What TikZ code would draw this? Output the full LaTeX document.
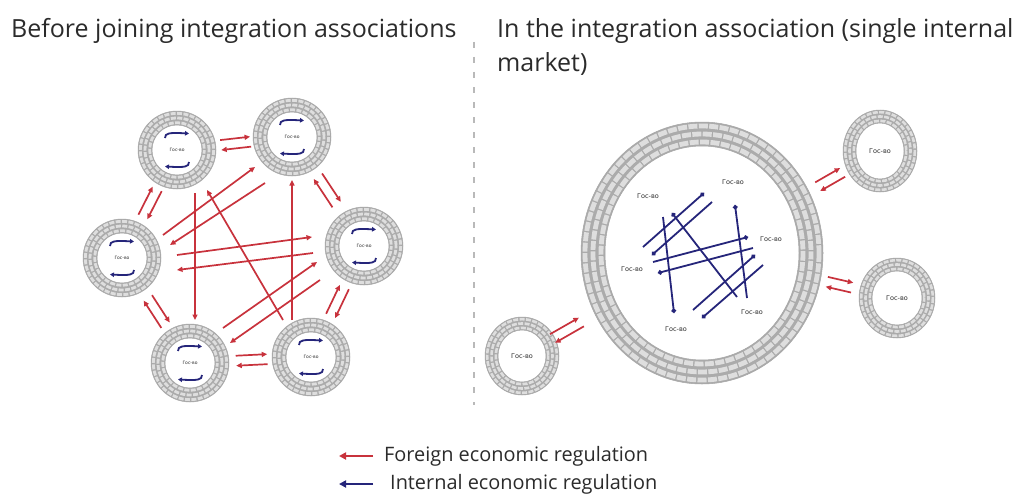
\documentclass[tikz,border=0pt]{standalone}
\usepackage{fontspec}
\setmainfont{Open Sans}
\newfontfamily\cyr{DejaVu Sans}
\usetikzlibrary{calc,arrows.meta,shapes.geometric}
\definecolor{redc}{HTML}{C8323C}
\definecolor{bluec}{HTML}{25257A}
\definecolor{mortar}{HTML}{ABABAB}
\definecolor{brickc}{HTML}{DEDEDE}
\definecolor{txt}{HTML}{2B2B2B}
% #1 node, #2 rx, #3 ry, #4 thickness, #5 brick length
\newcommand\brickring[5]{%
  \fill[mortar, even odd rule] (#1.center) ellipse [x radius=#2, y radius=#3] (#1.center) ellipse [x radius={#2-#4}, y radius={#3-#4}];
  \foreach \k/\ph in {1/0pt,2/2.6pt,3/1.3pt}{
    \draw[brickc, line width={#4*0.2pt}, dash pattern=on #5 off 1.4pt, dash phase=\ph]
      (#1.center) ellipse [x radius={#2-(\k-0.5)*#4/3}, y radius={#3-(\k-0.5)*#4/3}];
  }
  \draw[gray!70, line width=0.5pt] (#1.center) ellipse [x radius=#2, y radius=#3];
  \draw[gray!70, line width=0.5pt] (#1.center) ellipse [x radius={#2-#4}, y radius={#3-#4}];
}
\newcommand\pair[4]{%
  \draw[redarr] ($(#1)!#3!(#2)!5pt!90:(#2)$) -- ($(#1)!#4!(#2)!5pt!90:(#2)$);
  \draw[redarr] ($(#1)!#4!(#2)!5pt!-90:(#2)$) -- ($(#1)!#3!(#2)!5pt!-90:(#2)$);
}
\tikzset{
  redarr/.style={redc, line width=1.7pt, -{Triangle[length=5.5pt,width=5pt]}},
  bluearr/.style={bluec, line width=1.8pt, {Circle[length=4.5pt]}-},
  lnode/.style={circle, minimum size=78pt, inner sep=0pt, font=\cyr\fontsize{4.5}{5}\selectfont, text=txt},
  rnode/.style={circle, minimum size=76pt, inner sep=0pt, font=\cyr\fontsize{6.5}{7}\selectfont, text=txt},
  lbl/.style={font=\cyr\fontsize{6.5}{7}\selectfont, text=txt, inner sep=0pt},
  ttl/.style={font=\fontsize{25}{32}\selectfont, text=txt, inner sep=0pt, anchor=base west},
  leg/.style={font=\fontsize{19.9}{22}\selectfont, text=txt, inner sep=0pt, anchor=west},
  cyc/.pic={
    \draw[bluec, line width=1.8pt, -{Triangle[length=4pt,width=4.5pt]}] (-12,-12) .. controls (-12,-17) and (-8,-17.5) .. (12,-16.5);
    \draw[bluec, line width=1.8pt, -{Triangle[length=4pt,width=4.5pt]}] (12,12) .. controls (12,17) and (8,17.5) .. (-12,16.5);
  }
}
\begin{document}
\begin{tikzpicture}[x=1pt,y=-1pt]
\useasboundingbox (0,0) rectangle (1020,495);
\fill[white] (0,0) rectangle (1020,495);

% titles
\node[ttl] (t1) at (11,38) {Before joining integration associations};
\node[ttl] (t2) at (497,38) {In the integration association (single internal};
\node[ttl] (t3) at (497,72) {market)};

% separator
\coordinate (s1) at (474,42);
\coordinate (s2) at (474,405);
\draw[gray!55, line width=1.3pt, dash pattern=on 6pt off 9pt] (s1) -- (s2);

% left nodes
\node[lnode] (TL) at (177,150) {Гос-во};
\node[lnode] (TR) at (292,137) {Гос-во};
\node[lnode] (ML) at (122,258) {Гос-во};
\node[lnode] (MR) at (364,246) {Гос-во};
\node[lnode] (BL) at (190,363) {Гос-во};
\node[lnode] (BR) at (311,357) {Гос-во};
\foreach \n in {TL,TR,ML,MR,BL,BR}{
  \brickring{\n}{39}{39}{14}{5pt}
  \pic at (\n) {cyc};
}

% pairs left
\pair{TL}{TR}{0.38}{0.64}
\pair{TL}{ML}{0.36}{0.62}
\pair{TR}{MR}{0.36}{0.62}
\pair{ML}{BL}{0.38}{0.64}
\pair{MR}{BR}{0.37}{0.63}
\pair{BL}{BR}{0.38}{0.64}

% long arrows left
\draw[redarr] ($(ML)+(41,-23)$) -- ($(TR)+(-37,30)$);
\draw[redarr] ($(TR)+(-27,46)$) -- ($(ML)+(48,-13)$);
\draw[redarr] ($(TL)+(18,43)$) -- ($(BL)+(5,-43)$);
\draw[redarr] ($(BR)+(-28,-37)$) -- ($(TL)+(30,40)$);
\draw[redarr] ($(ML)+(55,-3)$) -- ($(MR)+(-52,-9)$);
\draw[redarr] ($(MR)+(-51,7)$) -- ($(ML)+(55,12)$);
\draw[redarr] ($(BR)+(-19,-37)$) -- ($(TR)+(0,43)$);
\draw[redarr] ($(BL)+(33,-35)$) -- ($(MR)+(-47,16)$);
\draw[redarr] ($(MR)+(-44,34)$) -- ($(BL)+(40,-20)$);

% right nodes
\node[ellipse, minimum width=242pt, minimum height=262pt, inner sep=0pt] (big) at (702,253) {};
\node[rnode] (R1) at (880,151) {Гос-во};
\node[rnode] (R2) at (897,298) {Гос-во};
\node[rnode] (R3) at (522,356) {Гос-во};
\brickring{big}{121}{131}{24}{9pt}
\brickring{R1}{37}{41}{13}{5pt}
\brickring{R2}{38}{40}{13}{5pt}
\brickring{R3}{37}{39}{13}{5pt}

\pair{big}{R1}{0.65}{0.79}
\pair{big}{R2}{0.64}{0.77}
\pair{R3}{big}{0.17}{0.33}

% inner labels
\node[lbl] (g1) at ($(big)+(31,-71)$) {Гос-во};
\node[lbl] (g2) at ($(big)+(-54,-57)$) {Гос-во};
\node[lbl] (g3) at ($(big)+(69,-14)$) {Гос-во};
\node[lbl] (g4) at ($(big)+(-70,16)$) {Гос-во};
\node[lbl] (g5) at ($(big)+(50,59)$) {Гос-во};
\node[lbl] (g6) at ($(big)+(-26,76)$) {Гос-во};

% inner blue lines (dot marks the end at the labelled point)
\draw[bluearr] ($(big)+(2,-60)$) -- ($(big)+(-59,-6)$);
\draw[bluearr] ($(big)+(-50,2)$) -- ($(big)+(10,-51)$);
\draw[bluearr] ($(big)+(-30,-40)$) -- ($(big)+(35,44)$);
\draw[bluearr] ($(big)+(-28,60)$) -- ($(big)+(-39,-36)$);
\draw[bluearr] ($(big)+(33,-48)$) -- ($(big)+(45,45)$);
\draw[bluearr] ($(big)+(46,-16)$) -- ($(big)+(-49,9)$);
\draw[bluearr] ($(big)+(-44,20)$) -- ($(big)+(51,-5)$);
\draw[bluearr] ($(big)+(53,2)$) -- ($(big)+(-9,57)$);
\draw[bluearr] ($(big)+(0,65)$) -- ($(big)+(61,12)$);

% legend
\coordinate (la1) at (373,456);
\coordinate (la2) at (339,456);
\coordinate (lb1) at (373,484);
\coordinate (lb2) at (339,484);
\draw[redc, line width=2.6pt, -{Triangle[length=7pt,width=7pt]}] (la1) -- (la2);
\draw[bluec, line width=2.6pt, -{Triangle[length=7pt,width=7pt]}] (lb1) -- (lb2);
\node[leg] (l1) at (384,456) {Foreign economic regulation};
\node[leg] (l2) at (390,484) {Internal economic regulation};
\end{tikzpicture}
\end{document}
